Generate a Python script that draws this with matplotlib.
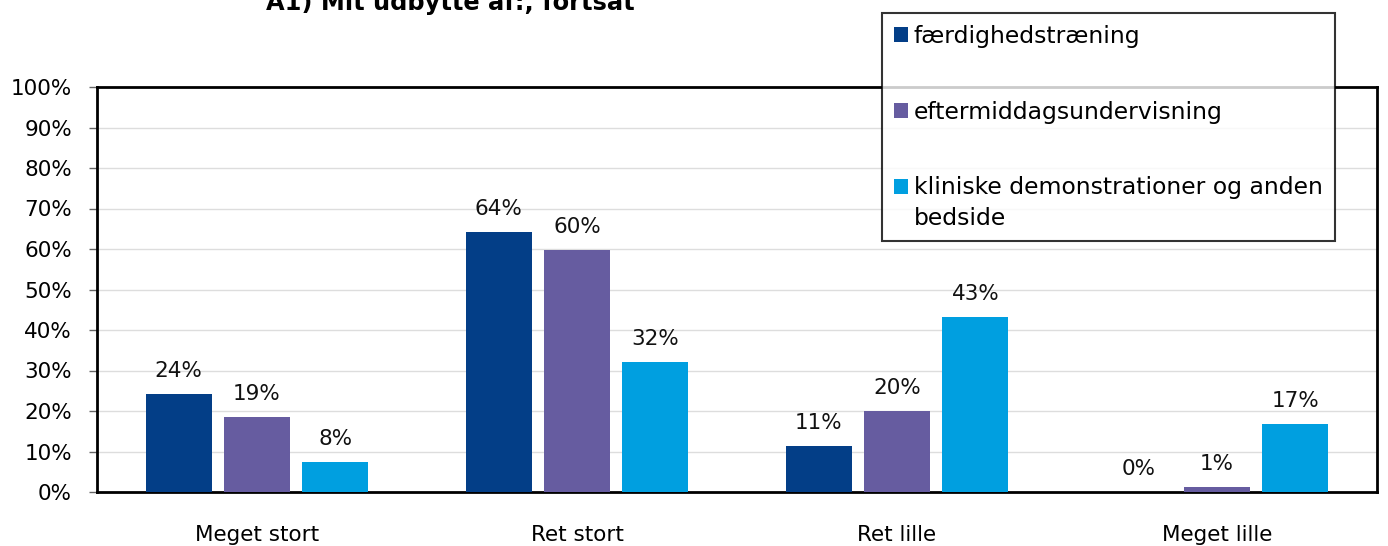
import matplotlib
matplotlib.use("Agg")
import matplotlib.pyplot as plt
from matplotlib.patches import Patch, Rectangle
from matplotlib.legend_handler import HandlerPatch
import numpy as np

plt.rcParams['font.family'] = ['DejaVu Sans']

categories = ["Meget stort", "Ret stort", "Ret lille", "Meget lille"]
series_names = ["færdighedstræning", "eftermiddagsundervisning",
                "kliniske demonstrationer og anden\nbedside"]
values = [
    [24.2, 64.2, 11.4, 0.0],
    [18.6, 59.8, 19.9, 1.2],
    [7.4, 32.0, 43.2, 16.8],
]
labels = [
    ["24%", "64%", "11%", "0%"],
    ["19%", "60%", "20%", "1%"],
    ["8%", "32%", "43%", "17%"],
]
colors = ["#033E87", "#665CA0", "#009FE0"]
yticks = [0, 10, 20, 30, 40, 50, 60, 70, 80, 90, 100]
title = "A1) Mit udbytte af:, fortsat"


class ShiftedPatch(HandlerPatch):
    def __init__(self, dy=0.0, **kw):
        super().__init__(**kw)
        self.dy = dy

    def create_artists(self, legend, orig_handle, xdescent, ydescent,
                       width, height, fontsize, trans):
        p = Rectangle(xy=(-xdescent, -ydescent + self.dy * fontsize),
                      width=width, height=height)
        self.update_prop(p, orig_handle, legend)
        p.set_transform(trans)
        return [p]


fig = plt.figure(figsize=(13.88, 5.46), dpi=100)
ax = fig.add_axes([97/1388, 1-492/546, 1280/1388, 405/546])

x = np.arange(len(categories))
bw = 0.206
step = 0.245
for i, (vals, lab, col) in enumerate(zip(values, labels, colors)):
    pos = x + (i - 1) * step
    ax.bar(pos, vals, width=bw, color=col, zorder=3)
    for p, v, t in zip(pos, vals, lab):
        ax.text(p, v + 4.2, t, ha='center', va='baseline', fontsize=15.5, color='#111111')

ax.set_xlim(-0.5, len(categories) - 0.5)
ax.set_ylim(0, 100)
ax.set_yticks(yticks)
ax.set_yticklabels([f"{t}%" for t in yticks], fontsize=15.5)
ax.set_xticks(x)
ax.set_xticklabels(categories, fontsize=15.5)
ax.tick_params(axis='x', length=0, pad=24)
ax.tick_params(axis='y', length=6, width=1, color='#666666', pad=12)
ax.grid(axis='y', color='#dddddd', linewidth=1, zorder=0)
for s in ax.spines.values():
    s.set_linewidth(2)
    s.set_color('black')

fig.text(450/1388, 1 - 10/546, title, ha='center', va='baseline',
         fontsize=17.4, fontweight='bold')

handles = [Patch(facecolor=c, edgecolor='none') for c in colors]
hmap = {h: ShiftedPatch(dy=(0.75 if '\n' in n else 0.0))
        for h, n in zip(handles, series_names)}
leg = fig.legend(handles, series_names, loc='upper left',
                 bbox_to_anchor=(882/1388, 1 - 13/546), handler_map=hmap,
                 prop={'size': 16.9}, frameon=True, fancybox=False, edgecolor='black',
                 handlelength=0.6, handleheight=0.6, handletextpad=0.26,
                 labelspacing=2.25, borderpad=0.5, borderaxespad=0)
for t in leg.get_texts():
    t.set_linespacing(1.4)
leg.get_frame().set_linewidth(1.5)
leg.set_zorder(10)

fig.savefig("out.png", dpi=100, facecolor='white')
